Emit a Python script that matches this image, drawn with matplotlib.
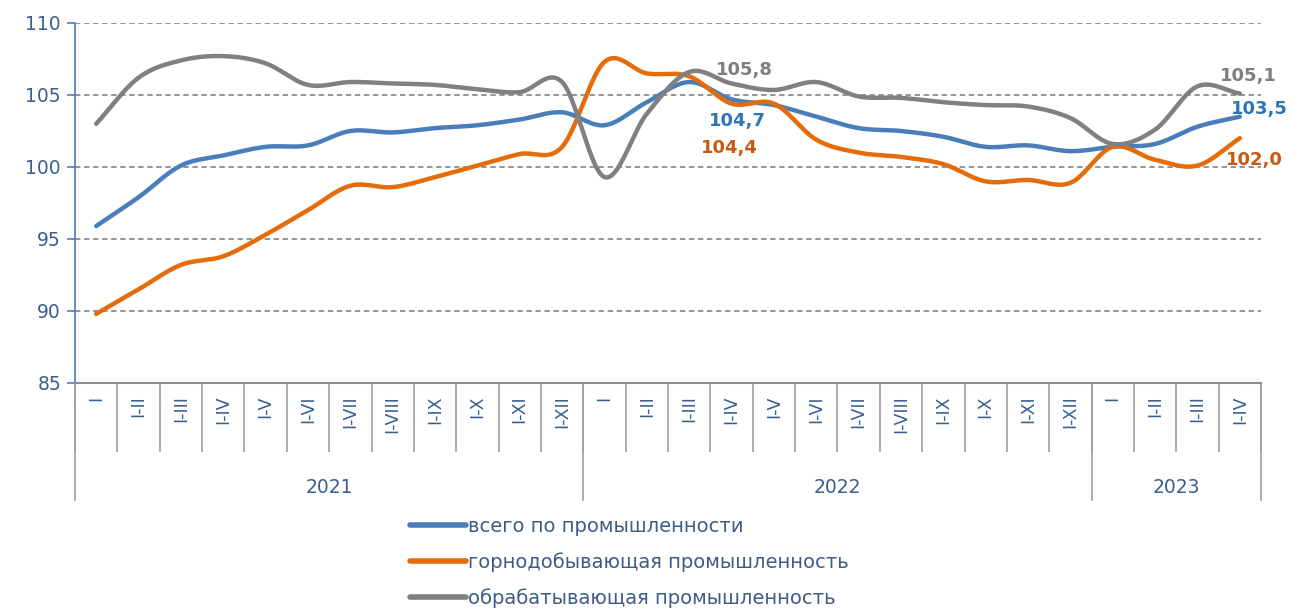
import numpy as np
import matplotlib
matplotlib.use("Agg")
import matplotlib.pyplot as plt
from matplotlib.lines import Line2D

# categories (cumulative periods) and years
periods = ["I", "I-II", "I-III", "I-IV", "I-V", "I-VI", "I-VII", "I-VIII", "I-IX", "I-X", "I-XI", "I-XII",
           "I", "I-II", "I-III", "I-IV", "I-V", "I-VI", "I-VII", "I-VIII", "I-IX", "I-X", "I-XI", "I-XII",
           "I", "I-II", "I-III", "I-IV"]
years = ["2021", "2022", "2023"]
year_sizes = [12, 12, 4]

total = [95.9, 97.9, 100.1, 100.8, 101.4, 101.5, 102.5, 102.4, 102.7, 102.9, 103.3, 103.8,
         102.9, 104.5, 105.9, 104.7, 104.3, 103.5, 102.7, 102.5, 102.1, 101.4, 101.5, 101.1,
         101.4, 101.6, 102.8, 103.5]
mining = [89.8, 91.5, 93.2, 93.8, 95.3, 97.0, 98.7, 98.6, 99.3, 100.1, 100.9, 101.4,
          107.3, 106.5, 106.3, 104.4, 104.4, 101.9, 101.0, 100.7, 100.2, 99.0, 99.1, 98.9,
          101.4, 100.5, 100.1, 102.0]
manuf = [103.0, 106.2, 107.4, 107.7, 107.2, 105.7, 105.9, 105.8, 105.7, 105.4, 105.2, 105.9,
         99.3, 103.7, 106.6, 105.8, 105.35, 105.9, 104.9, 104.8, 104.5, 104.3, 104.2, 103.4,
         101.6, 102.6, 105.6, 105.1]

series_names = ["всего по промышленности", "горнодобывающая промышленность", "обрабатывающая промышленность"]
series_colors = ["#4A7EBB", "#E46C0A", "#808080"]
label_colors = ["#2E75B6", "#C55A11", "#7F7F7F"]

text_color = "#3A5F8F"


def smooth(y, n=24):
    """Catmull-Rom curve through the points, like Excel's smoothed line."""
    y = np.asarray(y, dtype=float)
    x = np.arange(len(y), dtype=float)
    px = np.concatenate([[2 * x[0] - x[1]], x, [2 * x[-1] - x[-2]]])
    py = np.concatenate([[2 * y[0] - y[1]], y, [2 * y[-1] - y[-2]]])
    xs, ys = [], []
    t = np.linspace(0, 1, n, endpoint=False)
    for i in range(1, len(px) - 2):
        for p, out in ((px, xs), (py, ys)):
            p0, p1, p2, p3 = p[i - 1], p[i], p[i + 1], p[i + 2]
            out.extend(0.5 * ((2 * p1) + (-p0 + p2) * t + (2 * p0 - 5 * p1 + 4 * p2 - p3) * t ** 2
                              + (-p0 + 3 * p1 - 3 * p2 + p3) * t ** 3))
    xs.append(x[-1])
    ys.append(y[-1])
    return np.array(xs), np.array(ys)


fig = plt.figure(figsize=(12.91, 6.08), dpi=100)
ax = fig.add_axes([75 / 1291, 1 - 383 / 608, (1261 - 75) / 1291, 360 / 608])

for vals, col in zip([total, mining, manuf], series_colors):
    sx, sy = smooth(vals)
    ax.plot(sx, sy, color=col, lw=3.2, solid_capstyle="round", zorder=3)

ax.set_xlim(-0.5, len(periods) - 0.5)
ax.set_ylim(85, 110)

# grid
ax.set_yticks(range(85, 111, 5))
for v in range(90, 111, 5):
    ax.axhline(v, color="#8C8C8C", lw=1.3, ls=(0, (3, 2)), zorder=1)

for s in ["top", "right"]:
    ax.spines[s].set_visible(False)
ax.spines["left"].set_color("#4A7EBB")
ax.spines["left"].set_linewidth(1.2)
ax.spines["bottom"].set_color("#8C8C8C")
ax.spines["bottom"].set_linewidth(1.5)

ax.tick_params(axis="y", direction="out", length=6, width=1.2, color="#4A7EBB",
               labelsize=13.5, labelcolor=text_color, pad=4)

# category labels
ax.set_xticks(range(len(periods)))
ax.set_xticklabels(periods, rotation=90, va="top", ha="center")
ax.tick_params(axis="x", which="major", length=0, pad=9, labelsize=12.5, labelcolor=text_color)
# category separators
ax.set_xticks(np.arange(-0.5, len(periods), 1.0), minor=True)
ax.tick_params(axis="x", which="minor", direction="out", length=50, width=1.2, color="#A0A0A0")

# year separators and year labels
trans = ax.get_xaxis_transform()
start = 0
bounds = [-0.5]
for yr, n in zip(years, year_sizes):
    ax.text(start + (n - 1) / 2, -0.289, yr, transform=trans, ha="center", va="center",
            fontsize=13.5, color=text_color)
    start += n
    bounds.append(start - 0.5)
for b in bounds:
    ax.plot([b, b], [0, -0.325], transform=trans, color="#A0A0A0", lw=1.2, clip_on=False)

# data labels
ax.text(15.3, 106.75, "105,8", color=label_colors[2], fontsize=13, fontweight="bold", ha="center", va="center")
ax.text(15.14, 103.2, "104,7", color=label_colors[0], fontsize=13, fontweight="bold", ha="center", va="center")
ax.text(14.95, 101.3, "104,4", color=label_colors[1], fontsize=13, fontweight="bold", ha="center", va="center")
ax.text(27.2, 106.3, "105,1", color=label_colors[2], fontsize=13, fontweight="bold", ha="center", va="center",
        clip_on=False)
ax.text(27.45, 104.0, "103,5", color=label_colors[0], fontsize=13, fontweight="bold", ha="center", va="center",
        clip_on=False)
ax.text(27.35, 100.5, "102,0", color=label_colors[1], fontsize=13, fontweight="bold", ha="center", va="center",
        clip_on=False)

# legend
handles = [Line2D([0], [0], color=c, lw=4, solid_capstyle="round") for c in series_colors]
leg = fig.legend(handles, series_names, loc="upper left", bbox_to_anchor=(410 / 1291, 1 - 517 / 608),
                 frameon=False, fontsize=14, handlelength=2.9, handletextpad=0.1, labelspacing=0.83,
                 borderpad=0, borderaxespad=0)
for t in leg.get_texts():
    t.set_color("#3F5B86")

fig.savefig("out.png", dpi=100)
